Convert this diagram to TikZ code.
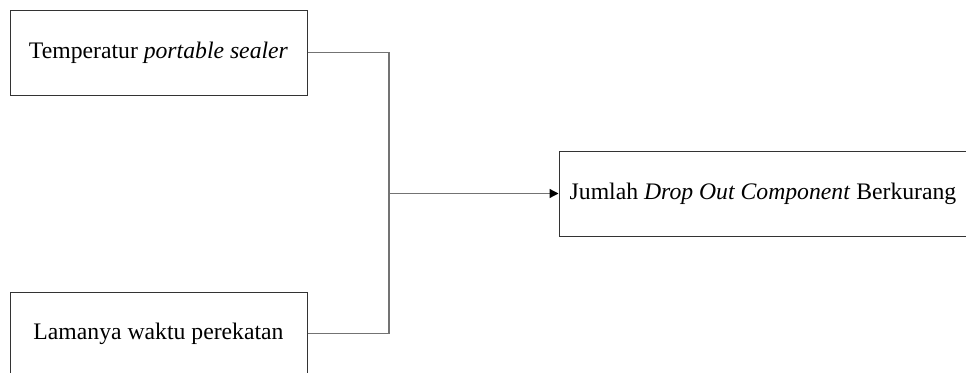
\documentclass[tikz,border=0pt]{standalone}
\usepackage{fontspec}
\setmainfont{Liberation Serif}
\usetikzlibrary{arrows.meta}
\begin{document}
\begin{tikzpicture}[x=1pt,y=-1pt,
  box/.style={draw=black!80,line width=1pt,inner sep=0pt,font=\fontsize{23.7}{27}\selectfont},
  conn/.style={draw=black!55,line width=1.3pt}]
\useasboundingbox (0,0) rectangle (966,372);
\node[box,minimum width=297pt,minimum height=85pt] (temp) at (158.5,52.5) {Temperatur \textit{portable sealer}};
\node[box,minimum width=297pt,minimum height=83pt] (lama) at (158.5,333.5) {Lamanya waktu perekatan};
\node[box,minimum width=408pt,minimum height=85pt] (jml) at (763,193.5) {Jumlah \textit{Drop Out Component} Berkurang};
\coordinate (j) at (389,193.5);
\draw[conn] (temp.east) -| (j);
\draw[conn] (lama.east) -| (j);
\draw[conn,-{Triangle[length=9pt,width=9pt,color=black]}] (j) -- (jml.west);
\end{tikzpicture}
\end{document}
